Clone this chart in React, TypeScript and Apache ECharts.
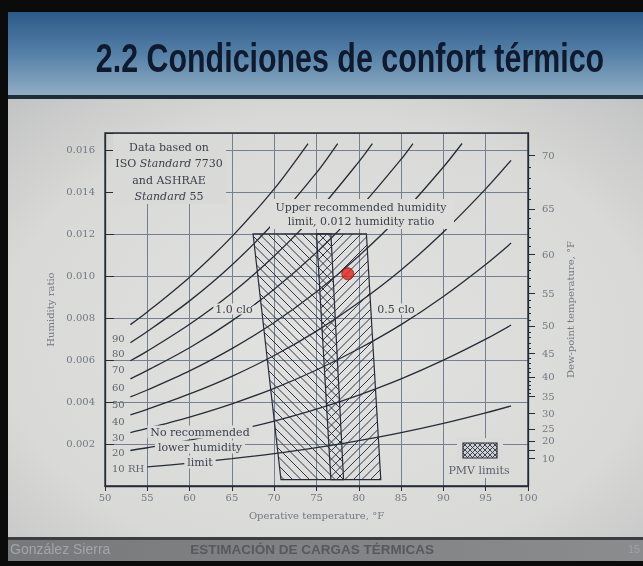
import React, { useEffect, useRef } from "react";
import * as echarts from "echarts";

// Relative-humidity curves: [operative temperature °F, humidity ratio]
const rh90 = [[53, 0.00768], [55, 0.00828], [60, 0.00994], [65, 0.01187], [70, 0.01414], [74.0, 0.0163]];
const rh80 = [[53, 0.00682], [55, 0.00735], [60, 0.00881], [65, 0.01052], [70, 0.01254], [75, 0.01491], [77.5, 0.0163]];
const rh70 = [[53, 0.00596], [55, 0.00642], [60, 0.0077], [65, 0.00919], [70, 0.01095], [75, 0.013], [80, 0.01543], [81.6, 0.0163]];
const rh60 = [[53, 0.0051], [55, 0.0055], [60, 0.00658], [65, 0.00786], [70, 0.00936], [75, 0.01112], [80, 0.01318], [85, 0.01555], [86.4, 0.0163]];
const rh50 = [[53, 0.00424], [55, 0.00457], [60, 0.00548], [65, 0.00654], [70, 0.00778], [75, 0.00924], [80, 0.01095], [85, 0.0129], [90, 0.01518], [92.2, 0.0163]];
const rh40 = [[53, 0.00339], [55, 0.00365], [60, 0.00438], [65, 0.00522], [70, 0.00621], [75, 0.00737], [80, 0.00873], [85, 0.01028], [90, 0.01209], [95, 0.01414], [98, 0.0155]];
const rh30 = [[53, 0.00254], [55, 0.00274], [60, 0.00328], [65, 0.00391], [70, 0.00465], [75, 0.00552], [80, 0.00653], [85, 0.00768], [90, 0.00902], [95, 0.01054], [98, 0.01156]];
const rh20 = [[53, 0.00169], [55, 0.00182], [60, 0.00218], [65, 0.0026], [70, 0.00309], [75, 0.00366], [80, 0.00433], [85, 0.0051], [90, 0.00599], [95, 0.00699], [98, 0.00766]];
const rh10 = [[55, 0.00091], [60, 0.00109], [65, 0.0013], [70, 0.00154], [75, 0.00183], [80, 0.00216], [85, 0.00254], [90, 0.00298], [95, 0.00348], [98, 0.00381]];

const rhCurves = [rh90, rh80, rh70, rh60, rh50, rh40, rh30, rh20, rh10];
const rhLabels = ["90", "80", "70", "60", "50", "40", "30", "20", "10 RH"];

// PMV comfort zones (corners: temperature °F, humidity ratio)
const zone10clo = [[67.5, 0.012], [76.7, 0.012], [78.2, 0.0003], [70.8, 0.0003]];
const zone05clo = [[75.0, 0.012], [80.9, 0.012], [82.6, 0.0003], [76.7, 0.0003]];

// Current condition (red point)
const currentPoint = [[78.7, 0.0101]];

// Axis ticks
const humidityTicks = [0.002, 0.004, 0.006, 0.008, 0.01, 0.012, 0.014, 0.016];
const dewPointLabels = [10, 20, 25, 30, 35, 40, 45, 50, 55, 60, 65, 70];
const dewPointMajor = [10, 15, 20, 25, 30, 35, 40, 45, 50, 55, 60, 65, 70];

// dew-point (°F) -> humidity ratio, used only to place the right-hand axis scale
function dewPointToW(tdF: number) {
  const t = (tdF - 32) / 1.8;
  const pws = t >= 0
    ? 0.61094 * Math.exp((17.625 * t) / (t + 243.04))
    : 0.61115 * Math.exp((22.452 * t) / (272.55 + t));
  return (0.622 * pws) / (101.325 - pws);
}

function hatch(poly: number[][], dir: number, step: number) {
  const cs = poly.map((p) => p[1] - dir * p[0]);
  const cmin = Math.min(...cs);
  const cmax = Math.max(...cs);
  const segs: number[][][] = [];
  for (let c = Math.ceil(cmin / step) * step; c <= cmax; c += step) {
    const hits: number[][] = [];
    for (let i = 0; i < poly.length; i++) {
      const a = poly[i];
      const b = poly[(i + 1) % poly.length];
      const fa = a[1] - dir * a[0] - c;
      const fb = b[1] - dir * b[0] - c;
      if ((fa <= 0 && fb > 0) || (fa > 0 && fb <= 0)) {
        const t = fa / (fa - fb);
        hits.push([a[0] + t * (b[0] - a[0]), a[1] + t * (b[1] - a[1])]);
      }
    }
    if (hits.length >= 2) segs.push([hits[0], hits[1]]);
  }
  return segs;
}

const INK = "#262b37";
const HATCH = "#2e3446";
const TXT = "#3d414c";
const AXTXT = "#737882";
const SERIF = '"DejaVu Serif", serif';

export default function App() {
  const ref = useRef<HTMLDivElement>(null);
  useEffect(() => {
    const chart = echarts.init(ref.current!, null, { renderer: "svg" });

    const zones = [
      { pts: zone10clo, dir: 1 },
      { pts: zone05clo, dir: -1 },
    ];

    const minorW: number[] = [];
    for (let d = 35; d <= 70; d++) minorW.push(dewPointToW(d));
    dewPointMajor.forEach((d) => { if (d < 35) minorW.push(dewPointToW(d)); });
    const majorW = dewPointMajor.map(dewPointToW);
    const labelW = dewPointLabels.map(dewPointToW);

    const legendPoly = [[463, 443], [497, 443], [497, 458], [463, 458]];
    const legendLines = [...hatch(legendPoly, 1, 5), ...hatch(legendPoly, -1, 5)].map((s) => ({
      type: "line",
      z: 13,
      shape: { x1: s[0][0], y1: s[0][1], x2: s[1][0], y2: s[1][1] },
      style: { stroke: HATCH, lineWidth: 0.9 },
    }));

    const rhLabelY = [338, 353, 369, 387, 404, 421, 437, 452, 468];

    const textEl = (x: number, y: number, text: string, extra: any = {}) => ({
      type: "text",
      x,
      y,
      z: 12,
      style: {
        text,
        font: `11px ${SERIF}`,
        fill: TXT,
        align: "center",
        verticalAlign: "middle",
        ...extra,
      },
    });

    const richStd = {
      n: { fontFamily: "DejaVu Serif", fontSize: 11, fill: TXT },
      i: { fontFamily: "DejaVu Serif", fontSize: 11, fill: TXT, fontStyle: "italic" },
    };

    const option: any = {
      animation: false,
      textStyle: { fontFamily: SERIF },
      grid: {
        left: 105,
        top: 133,
        width: 423,
        height: 353,
        show: true,
        borderColor: INK,
        borderWidth: 1.3,
        backgroundColor: "transparent",
        z: 2,
      },
      xAxis: {
        type: "value",
        min: 50,
        max: 100,
        interval: 5,
        name: "Operative temperature, °F",
        nameLocation: "middle",
        nameGap: 24,
        nameTextStyle: { color: AXTXT, fontSize: 10, fontFamily: SERIF },
        axisLine: { show: true, lineStyle: { color: INK, width: 1.3 } },
        axisTick: { show: true, inside: false, length: 5, lineStyle: { color: INK } },
        axisLabel: { color: AXTXT, fontSize: 10, margin: 6, fontFamily: SERIF },
        splitLine: { show: true, lineStyle: { color: "#738092", width: 1 } },
      },
      yAxis: [
        {
          type: "value",
          min: 0,
          max: 0.0168,
          interval: 0.002,
          position: "left",
          name: "Humidity ratio",
          nameLocation: "middle",
          nameGap: 34,
          nameRotate: 90,
          nameTextStyle: { color: AXTXT, fontSize: 10, fontFamily: SERIF },
          axisLine: { show: true, lineStyle: { color: INK, width: 1.3 } },
          axisTick: { show: true, inside: true, length: 9, lineStyle: { color: INK } },
          axisLabel: {
            color: AXTXT,
            fontSize: 10,
            margin: 10,
            fontFamily: SERIF,
            formatter: (v: number) => {
              const hit = humidityTicks.find((t) => Math.abs(t - v) < 1e-7);
              return hit ? hit.toFixed(3) : "";
            },
          },
          splitLine: { show: true, lineStyle: { color: "#738092", width: 1 } },
        },
        {
          type: "value",
          min: 0,
          max: 0.0168,
          position: "right",
          name: "Dew-point temperature, °F",
          nameLocation: "middle",
          nameGap: 36,
          nameRotate: 90,
          nameTextStyle: { color: AXTXT, fontSize: 10, fontFamily: SERIF },
          axisLine: { show: true, lineStyle: { color: INK, width: 1.3 } },
          axisTick: { show: true, inside: false, length: 3, customValues: minorW, lineStyle: { color: INK } },
          axisLabel: {
            show: true,
            customValues: labelW,
            color: AXTXT,
            fontSize: 10,
            margin: 14,
            fontFamily: SERIF,
            formatter: (v: number) => {
              let best = 0;
              let bd = Infinity;
              labelW.forEach((w, i) => {
                const d = Math.abs(w - v);
                if (d < bd) { bd = d; best = i; }
              });
              return String(dewPointLabels[best]);
            },
          },
          splitLine: { show: false },
        },
        {
          type: "value",
          min: 0,
          max: 0.0168,
          position: "right",
          axisLine: { show: false },
          axisTick: { show: true, inside: false, length: 7, customValues: majorW, lineStyle: { color: INK } },
          axisLabel: { show: false },
          splitLine: { show: false },
        },
      ],
      series: [
        ...rhCurves.map((d, i) => ({
          type: "line",
          name: rhLabels[i],
          data: d,
          showSymbol: false,
          smooth: 0.3,
          silent: true,
          z: 3,
          lineStyle: { color: INK, width: 1.3 },
        })),
        {
          type: "custom",
          coordinateSystem: "cartesian2d",
          z: 4,
          silent: true,
          clip: false,
          data: zones.map((zn, i) => [zn.pts[0][0], zn.pts[0][1], i]),
          encode: { x: 0, y: 1 },
          renderItem: (params: any, api: any) => {
            const zn = zones[params.dataIndex];
            const pts = zn.pts.map((p) => api.coord(p));
            const segs = hatch(pts, zn.dir, 8.5);
            return {
              type: "group",
              children: [
                {
                  type: "polygon",
                  shape: { points: pts },
                  style: { fill: "none", stroke: INK, lineWidth: 1.2 },
                },
                ...segs.map((s) => ({
                  type: "line",
                  shape: { x1: s[0][0], y1: s[0][1], x2: s[1][0], y2: s[1][1] },
                  style: { stroke: HATCH, lineWidth: 1 },
                })),
              ],
            };
          },
        },
        {
          type: "scatter",
          data: currentPoint,
          symbolSize: 12,
          z: 20,
          silent: true,
          itemStyle: { color: "#e0221c", borderColor: "#8c1a14", borderWidth: 1 },
        },
      ],
      graphic: [
        { type: "rect", z: -100, shape: { x: 0, y: 0, width: 643, height: 566 }, style: { fill: "#0b0b0c" } },
        {
          type: "rect",
          z: -99,
          shape: { x: 8, y: 12, width: 635, height: 85 },
          style: {
            fill: new echarts.graphic.LinearGradient(0, 0, 0, 1, [
              { offset: 0, color: "#2c5a88" },
              { offset: 0.5, color: "#5581a8" },
              { offset: 1, color: "#94afc5" },
            ]),
          },
        },
        { type: "rect", z: -98, shape: { x: 8, y: 95, width: 635, height: 4 }, style: { fill: "#1f2c3a" } },
        {
          type: "rect",
          z: -99,
          shape: { x: 8, y: 99, width: 635, height: 438 },
          style: {
            fill: new echarts.graphic.RadialGradient(0.5, 0.55, 0.85, [
              { offset: 0, color: "#e2e2e0" },
              { offset: 0.6, color: "#d9d9d7" },
              { offset: 1, color: "#b7b9ba" },
            ]),
          },
        },
        { type: "rect", z: -98, shape: { x: 8, y: 537, width: 635, height: 3 }, style: { fill: "#3a3e43" } },
        {
          type: "rect",
          z: -98,
          shape: { x: 8, y: 540, width: 635, height: 21 },
          style: {
            fill: new echarts.graphic.LinearGradient(0, 0, 1, 0, [
              { offset: 0, color: "#77797b" },
              { offset: 1, color: "#8a8c8e" },
            ]),
          },
        },
        {
          type: "text",
          x: 350,
          y: 58,
          scaleX: 0.76,
          z: 5,
          style: {
            text: "2.2 Condiciones de confort térmico",
            font: 'bold 40px "Liberation Sans", Arial, sans-serif',
            fill: "#0f1a2e",
            align: "center",
            verticalAlign: "middle",
          },
        },
        {
          type: "text",
          x: 10,
          y: 549,
          z: 5,
          style: { text: "González Sierra", font: '14px "Liberation Sans", sans-serif', fill: "#a3a6a9", align: "left", verticalAlign: "middle" },
        },
        {
          type: "text",
          x: 312,
          y: 549,
          z: 5,
          style: { text: "ESTIMACIÓN DE CARGAS TÉRMICAS", font: 'bold 13.5px "Liberation Sans", sans-serif', fill: "#56595d", align: "center", verticalAlign: "middle" },
        },
        {
          type: "text",
          x: 628,
          y: 549,
          z: 5,
          style: { text: "15", font: '11px "Liberation Sans", sans-serif', fill: "#9fa2a5", align: "left", verticalAlign: "middle" },
        },
        // "Data based on" box
        { type: "rect", z: 10, shape: { x: 113, y: 134, width: 113, height: 70 }, style: { fill: "#d9d9d7" } },
        textEl(169, 147, "Data based on"),
        textEl(169, 163, "{n|ISO }{i|Standard}{n| 7730}", { rich: richStd }),
        textEl(169, 180, "and ASHRAE"),
        textEl(169, 196, "{i|Standard}{n| 55}", { rich: richStd }),
        // upper humidity limit note
        { type: "rect", z: 10, shape: { x: 270, y: 199, width: 184, height: 30 }, style: { fill: "#dddddb" } },
        textEl(361, 207, "Upper recommended humidity"),
        textEl(361, 221, "limit, 0.012 humidity ratio"),
        // lower limit note
        textEl(200, 432, "No recommended", { backgroundColor: "#dcdcda", padding: [1, 3] }),
        textEl(200, 447, "lower humidity", { backgroundColor: "#dcdcda", padding: [1, 3] }),
        textEl(200, 462, "limit", { backgroundColor: "#dcdcda", padding: [1, 3] }),
        // clo labels
        textEl(234, 309, "1.0 clo", { backgroundColor: "#e0e0de", padding: [0, 2] }),
        { type: "line", z: 12, shape: { x1: 251, y1: 307, x2: 262, y2: 299 }, style: { stroke: INK, lineWidth: 1 } },
        textEl(396, 309, "0.5 clo", { backgroundColor: "#e0e0de", padding: [0, 2] }),
        // RH labels
        ...rhLabels.map((t, i) => ({
          type: "text",
          x: 112,
          y: rhLabelY[i],
          z: 12,
          style: { text: t, font: `10px ${SERIF}`, fill: "#60656f", align: "left", verticalAlign: "middle" },
        })),
        // PMV legend
        { type: "rect", z: 10, shape: { x: 457, y: 438, width: 46, height: 40 }, style: { fill: "#dadad8" } },
        { type: "rect", z: 11, shape: { x: 463, y: 443, width: 34, height: 15 }, style: { fill: "#cfd0d0", stroke: INK, lineWidth: 1.2 } },
        ...legendLines,
        textEl(479, 470, "PMV limits", { fill: "#5a5f69" }),
      ],
    };

    chart.setOption(option);
    return () => chart.dispose();
  }, []);

  return <div ref={ref} style={{ position: "fixed", left: 0, top: 0, width: 643, height: 566 }} />;
}
